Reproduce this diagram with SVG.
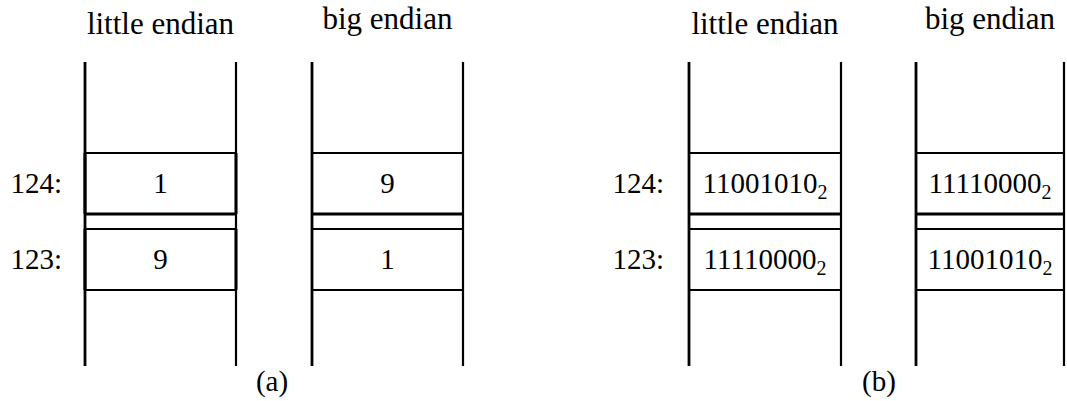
<svg xmlns="http://www.w3.org/2000/svg" width="1067" height="401" viewBox="0 0 1067 401">
  <style>
    text { font-family: "Liberation Serif", "DejaVu Serif", serif; fill: #000; }
    .hd { font-size: 31px; text-anchor: middle; }
    .cell { font-size: 29px; text-anchor: middle; }
    .addr { font-size: 29px; text-anchor: end; }
    .cap { font-size: 29px; text-anchor: middle; }
    .sub { font-size: 20px; }
    .rail-l { stroke: #000; stroke-width: 2.8; fill: none; }
    .rail-r { stroke: #000; stroke-width: 2.2; fill: none; }
    .edge { stroke: #000; stroke-width: 2; fill: none; }
    .seam { stroke: #000; stroke-width: 3; fill: none; }
    .side { stroke: #000; stroke-width: 3; fill: none; }
  </style>

  <!-- Panel (a): decimal byte values -->
  <g id="a-little">
    <text class="hd" x="160.5" y="34">little endian</text>
    <line class="rail-l" x1="85" y1="62" x2="85" y2="366"/>
    <line class="rail-r" x1="236" y1="62" x2="236" y2="366"/>
    <line class="side" x1="85" y1="153" x2="85" y2="214"/>
    <line class="side" x1="236" y1="153" x2="236" y2="214"/>
    <line class="side" x1="85" y1="229" x2="85" y2="290"/>
    <line class="side" x1="236" y1="229" x2="236" y2="290"/>
    <line class="edge" x1="85" y1="153" x2="236" y2="153"/>
    <line class="seam" x1="85" y1="214" x2="236" y2="214"/>
    <line class="edge" x1="85" y1="229" x2="236" y2="229"/>
    <line class="edge" x1="85" y1="290" x2="236" y2="290"/>
    <text class="cell" x="160.5" y="193">1</text>
    <text class="cell" x="160.5" y="269">9</text>
  </g>
  <g id="a-big">
    <text class="hd" x="387.5" y="29">big endian</text>
    <line class="rail-l" x1="312" y1="62" x2="312" y2="366"/>
    <line class="rail-r" x1="463" y1="62" x2="463" y2="366"/>
    <line class="edge" x1="312" y1="153" x2="463" y2="153"/>
    <line class="seam" x1="312" y1="214" x2="463" y2="214"/>
    <line class="edge" x1="312" y1="229" x2="463" y2="229"/>
    <line class="edge" x1="312" y1="290" x2="463" y2="290"/>
    <text class="cell" x="387.5" y="193">9</text>
    <text class="cell" x="387.5" y="269">1</text>
  </g>
  <g id="a-addr">
    <text class="addr" x="62" y="193">124:</text>
    <text class="addr" x="62" y="269">123:</text>
  </g>
  <text class="cap" x="272" y="391">(a)</text>

  <!-- Panel (b): binary byte values -->
  <g id="b-little">
    <text class="hd" x="765" y="34">little endian</text>
    <line class="rail-l" x1="689" y1="62" x2="689" y2="366"/>
    <line class="rail-r" x1="841" y1="62" x2="841" y2="366"/>
    <line class="edge" x1="689" y1="153" x2="841" y2="153"/>
    <line class="seam" x1="689" y1="214" x2="841" y2="214"/>
    <line class="edge" x1="689" y1="229" x2="841" y2="229"/>
    <line class="edge" x1="689" y1="290" x2="841" y2="290"/>
    <text class="cell" x="765" y="193">11001010<tspan class="sub" dy="6">2</tspan></text>
    <text class="cell" x="765" y="269">11110000<tspan class="sub" dy="6">2</tspan></text>
  </g>
  <g id="b-big">
    <text class="hd" x="990" y="29">big endian</text>
    <line class="rail-l" x1="916" y1="62" x2="916" y2="366"/>
    <line class="rail-r" x1="1064" y1="62" x2="1064" y2="366"/>
    <line class="edge" x1="916" y1="153" x2="1064" y2="153"/>
    <line class="seam" x1="916" y1="214" x2="1064" y2="214"/>
    <line class="edge" x1="916" y1="229" x2="1064" y2="229"/>
    <line class="edge" x1="916" y1="290" x2="1064" y2="290"/>
    <text class="cell" x="990" y="193">11110000<tspan class="sub" dy="6">2</tspan></text>
    <text class="cell" x="990" y="269">11001010<tspan class="sub" dy="6">2</tspan></text>
  </g>
  <g id="b-addr">
    <text class="addr" x="664" y="193">124:</text>
    <text class="addr" x="664" y="269">123:</text>
  </g>
  <text class="cap" x="879" y="391">(b)</text>
</svg>
